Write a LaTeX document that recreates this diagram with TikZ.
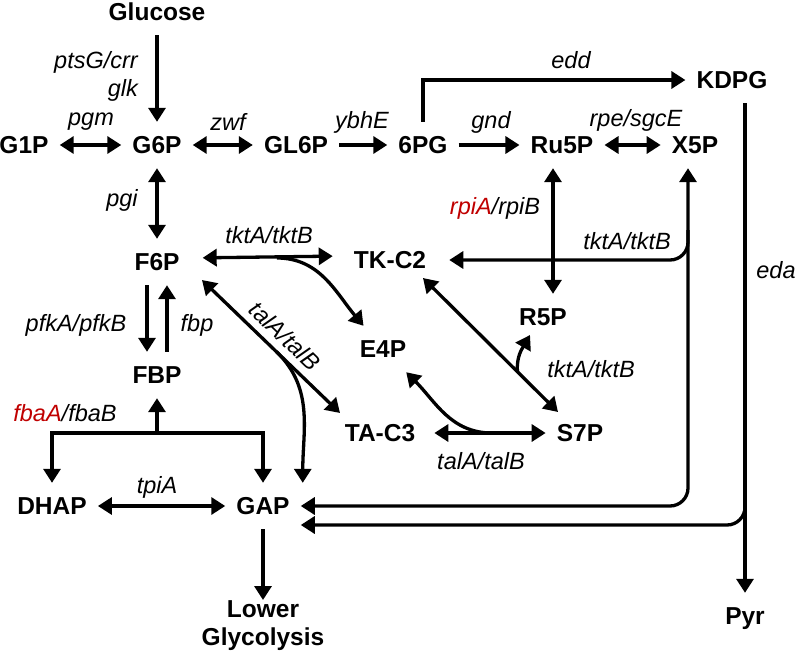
\documentclass[tikz,border=0pt]{standalone}
\usepackage{fontspec}
\setmainfont{Liberation Sans}
\usepackage{tikz}
\usetikzlibrary{arrows.meta,calc}
\definecolor{genered}{RGB}{192,0,0}

\begin{document}
\begin{tikzpicture}[x=1pt,y=1pt,
    met/.style={font=\fontsize{24.5}{28}\selectfont\bfseries,inner xsep=11pt,inner ysep=0pt,minimum height=46pt,text height=17.5pt,text depth=0pt},
    gene/.style={font=\fontsize{23.5}{28}\selectfont\itshape,inner sep=0pt},
    rxn/.style={line width=3.3pt,-{Triangle[length=14pt,width=17pt]}},
    rev/.style={line width=3.3pt,{Triangle[length=14pt,width=17pt]}-{Triangle[length=14pt,width=17pt]}}]

        \useasboundingbox (0,0) rectangle (800,-653);

        \node[met] (glc) at (157,-12) {Glucose};
        \node[met] (g1p) at (24,-145) {G1P};
        \node[met] (g6p) at (157,-145) {G6P};
        \node[met] (gl6p) at (296,-145) {GL6P};
        \node[met] (sixpg) at (423,-145) {6PG};
        \node[met] (ru5p) at (562,-145) {Ru5P};
        \node[met] (x5p) at (695,-145) {X5P};
        \node[met] (kdpg) at (732,-80) {KDPG};
        \node[met] (f6p) at (157,-262) {F6P};
        \node[met] (fbp) at (157,-375) {FBP};
        \node[met] (tkc2) at (390,-260) {TK-C2};
        \node[met] (e4p) at (383,-349) {E4P};
        \node[met] (r5p) at (543,-317) {R5P};
        \node[met] (tac3) at (380,-433) {TA-C3};
        \node[met] (s7p) at (580,-433) {S7P};
        \node[met] (dhap) at (52,-506) {DHAP};
        \node[met] (gap) at (263,-506) {GAP};
        \node[met] (pyr) at (745,-616) {Pyr};
        \node[font=\fontsize{24.5}{28}\selectfont\bfseries,align=center,inner sep=0pt,anchor=north] (lower) at (263,-600) {Lower\\Glycolysis};

        \node[gene,align=right,anchor=east] (ptsg) at (138,-76) {ptsG/crr\\glk};
        \node[gene] (pgm) at (91,-122) {pgm};
        \node[gene] (zwf) at (228,-122) {zwf};
        \node[gene] (ybhe) at (362,-122) {ybhE};
        \node[gene] (gnd) at (491,-122) {gnd};
        \node[gene] (rpe) at (636,-120) {rpe/sgcE};
        \node[gene] (edd) at (571,-60) {edd};
        \node[gene] (eda) at (776,-270) {eda};
        \node[gene] (pgi) at (122,-200) {pgi};
        \node[gene] (tkt1) at (269,-235) {tktA/tktB};
        \node[gene] (pfk) at (76,-325) {pfkA/pfkB};
        \node[gene] (fbpase) at (197,-325) {fbp};
        \node[gene] (fba) at (65,-413) {\textcolor{genered}{fbaA}/fbaB};
        \node[gene] (rpi) at (495,-208) {\textcolor{genered}{rpiA}/rpiB};
        \node[gene] (tkt2) at (627,-241) {tktA/tktB};
        \node[gene,rotate=-44] (tal1) at (285,-336) {talA/talB};
        \node[gene] (tkt3) at (591,-369) {tktA/tktB};
        \node[gene] (tal2) at (481,-461) {talA/talB};
        \node[gene] (tpi) at (157,-487) {tpiA};

        \coordinate (fbafork) at (157,-433);
        \coordinate (tkfork) at (277,-258);
        \coordinate (x5pdown) at (688,-230);
        \coordinate (f6pend) at ($(f6p)+(45,-18)$);
        \coordinate (tac3end) at ($(tac3)+(-40,20)$);
        \coordinate (tkc2end) at ($(tkc2)+(33,-18)$);
        \coordinate (s7pend) at ($(s7p)+(-22,21)$);
        \coordinate (tafork) at ($(f6pend)!0.54!(tac3end)$);
        \coordinate (tkcfork) at ($(tkc2end)!0.7!(s7pend)$);
        \coordinate (s7pfork) at ($(tac3.east)!0.55!(s7p.west)$);

        \draw[rxn] (glc) to (g6p);
        \draw[rev] (g1p) to (g6p);
        \draw[rev] (g6p) to (gl6p);
        \draw[rxn] (gl6p) to (sixpg);
        \draw[rxn] (sixpg) to (ru5p);
        \draw[rev] (ru5p) to (x5p);
        \draw[rxn] (sixpg.north) |- (kdpg.west);
        \draw[rxn] (kdpg.south -| pyr.north) to (pyr.north);
        \draw[rxn,rounded corners=18pt] ($(kdpg.south -| pyr.north)+(0,-400)$) |- ([yshift=-19pt]gap.east);
        \draw[rev,rounded corners=18pt] ([xshift=-7pt]x5p.south) -- ([xshift=-7pt]x5p.south |- gap.east) -- (gap.east);
        \draw[rxn,rounded corners=18pt,shorten >=12pt] (x5pdown) |- (tkc2.east);
        \draw[rev] ([xshift=-9pt]ru5p.south) to ([xshift=-9pt]ru5p.south |- r5p.north);
        \draw[rev] (g6p) to (f6p);
        \draw[rxn] ([xshift=-10pt]f6p.south) to ([xshift=-10pt]fbp.north);
        \draw[rxn] ([xshift=10pt]fbp.north) to ([xshift=10pt]f6p.south);
        \draw[rxn] (fbafork) to (fbp);
        \draw[rxn] (fbafork) -| (dhap);
        \draw[rxn] (fbafork) -| (gap);
        \draw[rev] (dhap) to (gap);
        \draw[rxn] (gap) to (lower);
        \draw[rev,shorten <=12pt,shorten >=10pt] ([yshift=4pt]f6p.east) to ([yshift=4pt]tkc2.west);
        \draw[rxn] (tkfork) to[out=0,in=130] (e4p.130);
        \draw[rev] (f6pend) to (tac3end);
        \draw[rxn] (tafork) to[out=-44,in=90] ([xshift=2pt]gap.north east);
        \draw[rev] (tkc2end) to (s7pend);
        \draw[rxn] (tkcfork) to[out=95,in=-120] ($(r5p)+(-13,-18)$);
        \draw[rev,shorten <=8pt] (tac3) to (s7p);
        \draw[rxn] (s7pfork) to[out=180,in=-45] (e4p.-45);
    \end{tikzpicture}
\end{document}
